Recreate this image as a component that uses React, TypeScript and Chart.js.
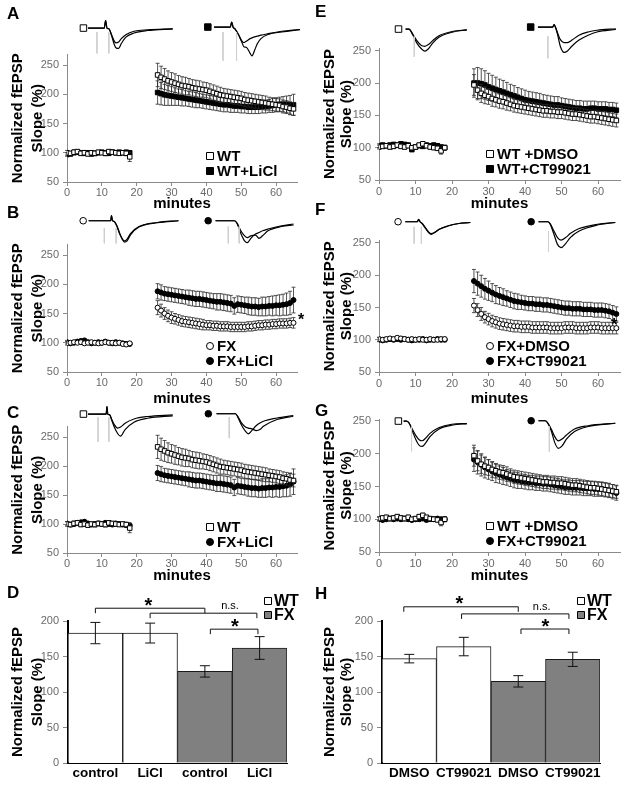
import React, { useEffect, useRef } from "react";
import { Chart, registerables } from "chart.js";

Chart.register(...registerables);

const FONT = '"Liberation Sans", Arial, Helvetica, sans-serif';
const TICK_GRAY = "#6a6a6a";
const AXIS_GRAY = "#8a8a8a";

/* ====================== DATA ====================== */
const baseTimes = [0, 1, 2, 3, 4, 5, 6, 7, 8, 9, 10, 11, 12, 13, 14, 15, 16, 17, 18];
const postTimes = [26, 27, 28, 29, 30, 31, 32, 33, 34, 35, 36, 37, 38, 39, 40, 41, 42, 43, 44, 45, 46, 47, 48, 49, 50, 51, 52, 53, 54, 55, 56, 57, 58, 59, 60, 61, 62, 63, 64, 65];
const xTicks = [0, 10, 20, 30, 40, 50, 60];
const yTicksTC = [50, 100, 150, 200, 250];
const yTicksBar = [0, 50, 100, 150, 200];
const yTitle = ["Normalized fEPSP", "Slope (%)"];
const xTitle = "minutes";

// WT control
const wtCtlBase = [100, 99, 101, 102, 99, 100, 98, 100, 99, 101, 100, 99, 102, 101, 100, 99, 100, 99, 93];
const wtCtlBaseErr = [4, 3, 4, 3, 3, 4, 3, 3, 4, 3, 3, 4, 3, 3, 4, 3, 3, 4, 8];
const wtCtlPost = [233, 229, 226, 223, 221, 219, 217, 215, 214, 213, 211, 210, 209, 208, 207, 205, 203, 201, 199, 198, 197, 196, 195, 194, 193, 191, 190, 189, 188, 187, 186, 185, 184, 183, 182, 181, 179, 178, 176, 175];
const wtCtlPostErr = [20, 19, 18, 17, 16, 16, 15, 15, 15, 14, 14, 14, 14, 13, 13, 13, 13, 13, 13, 12, 12, 12, 12, 12, 12, 12, 12, 12, 12, 12, 12, 12, 11, 11, 11, 11, 11, 11, 11, 11];
// WT + LiCl
const wtLiClBase = [97, 98, 100, 101, 100, 99, 100, 98, 99, 100, 101, 100, 99, 101, 100, 101, 100, 101, 100];
const wtLiClBaseErr = [3, 3, 3, 4, 3, 3, 3, 3, 3, 3, 3, 3, 3, 3, 3, 3, 3, 3, 3];
const wtLiClPost = [203, 201, 199, 198, 197, 196, 195, 194, 193, 192, 191, 190, 189, 188, 187, 186, 185, 184, 183, 182, 182, 181, 180, 180, 179, 179, 178, 178, 178, 178, 179, 179, 180, 181, 182, 183, 183, 183, 182, 182];
const wtLiClPostErr = [20, 19, 18, 17, 16, 15, 14, 14, 13, 13, 13, 13, 12, 12, 12, 12, 12, 12, 12, 12, 12, 12, 11, 11, 11, 11, 11, 11, 11, 11, 11, 11, 11, 12, 12, 12, 13, 14, 16, 18];
// FX control
const fxCtlBase = [99, 100, 101, 100, 101, 99, 100, 101, 100, 99, 100, 101, 100, 100, 99, 100, 98, 97, 99];
const fxCtlBaseErr = [3, 3, 3, 3, 3, 3, 3, 3, 3, 3, 3, 3, 3, 3, 3, 3, 3, 3, 3];
const fxCtlPost = [160, 155, 150, 146, 143, 141, 139, 137, 136, 135, 134, 133, 132, 131, 130, 130, 129, 129, 128, 128, 128, 127, 127, 127, 127, 127, 128, 128, 129, 130, 130, 131, 131, 132, 132, 133, 133, 133, 134, 134];
const fxCtlPostErr = [12, 11, 10, 10, 10, 9, 9, 9, 9, 9, 9, 9, 9, 9, 8, 8, 8, 8, 8, 8, 8, 8, 8, 8, 8, 8, 8, 8, 8, 8, 8, 8, 8, 8, 8, 8, 8, 8, 8, 9];
// FX + LiCl
const fxLiClBase = [101, 99, 100, 102, 103, 104, 101, 99, 100, 101, 100, 102, 100, 99, 101, 100, 99, 98, 98];
const fxLiClBaseErr = [3, 3, 3, 3, 3, 3, 3, 3, 3, 3, 3, 3, 3, 3, 3, 3, 3, 3, 3];
const fxLiClPost = [188, 186, 184, 183, 182, 181, 180, 179, 178, 177, 176, 175, 175, 174, 173, 172, 171, 170, 170, 169, 168, 167, 163, 166, 165, 164, 163, 162, 162, 161, 162, 162, 163, 163, 164, 164, 165, 166, 168, 173];
const fxLiClPostErr = [13, 13, 12, 12, 12, 12, 12, 12, 12, 13, 13, 13, 13, 13, 13, 13, 13, 14, 14, 14, 14, 14, 14, 14, 14, 14, 15, 15, 15, 15, 16, 16, 16, 17, 17, 18, 18, 19, 20, 22];
// WT + DMSO
const wtDmsoBase = [101, 102, 103, 101, 102, 104, 102, 101, 103, 100, 101, 104, 106, 103, 101, 100, 99, 95, 100];
const wtDmsoBaseErr = [3, 3, 3, 3, 3, 3, 3, 3, 3, 3, 3, 3, 3, 3, 3, 3, 3, 5, 4];
const wtDmsoPost = [197, 189, 184, 181, 179, 176, 174, 172, 171, 169, 167, 165, 164, 163, 162, 161, 160, 159, 158, 157, 157, 156, 156, 155, 155, 154, 153, 152, 152, 151, 150, 149, 148, 148, 147, 146, 145, 144, 143, 142];
const wtDmsoPostErr = [16, 15, 14, 13, 12, 12, 11, 11, 11, 11, 10, 10, 10, 10, 10, 10, 10, 10, 10, 10, 10, 10, 10, 10, 10, 10, 10, 10, 10, 10, 10, 10, 10, 10, 10, 10, 10, 10, 10, 10];
// WT + CT99021
const wtCtBase = [103, 104, 103, 104, 105, 104, 106, 105, 104, 97, 101, 103, 102, 104, 103, 104, 103, 101, 100];
const wtCtBaseErr = [3, 3, 3, 3, 3, 3, 3, 3, 3, 3, 3, 3, 3, 3, 3, 3, 3, 3, 3];
const wtCtPost = [200, 200, 199, 197, 194, 192, 190, 188, 186, 184, 182, 180, 178, 176, 174, 173, 172, 171, 170, 169, 168, 167, 166, 166, 165, 164, 163, 162, 161, 161, 160, 160, 161, 161, 160, 160, 160, 159, 159, 158];
const wtCtPostErr = [22, 24, 23, 22, 21, 20, 19, 18, 18, 17, 16, 16, 15, 15, 15, 14, 14, 14, 14, 13, 13, 13, 13, 13, 12, 12, 12, 12, 12, 12, 12, 12, 11, 11, 11, 11, 11, 11, 11, 11];
// FX + DMSO
const fxDmsoBase = [101, 100, 101, 102, 101, 103, 102, 101, 100, 101, 100, 101, 100, 100, 101, 100, 100, 101, 101];
const fxDmsoBaseErr = [3, 3, 3, 3, 3, 3, 3, 3, 3, 3, 3, 3, 3, 3, 3, 3, 3, 3, 3];
const fxDmsoPost = [153, 146, 140, 135, 132, 129, 127, 125, 124, 123, 122, 121, 121, 120, 120, 120, 119, 119, 119, 119, 119, 118, 118, 118, 118, 119, 119, 119, 118, 118, 118, 118, 119, 119, 119, 118, 118, 118, 118, 118];
const fxDmsoPostErr = [11, 10, 10, 9, 9, 9, 9, 9, 9, 9, 9, 9, 9, 9, 9, 9, 9, 9, 9, 9, 9, 9, 9, 9, 9, 9, 9, 9, 9, 9, 9, 9, 9, 9, 9, 9, 9, 9, 9, 9];
// FX + CT99021
const fxCtBase = [100, 99, 100, 101, 100, 101, 100, 101, 100, 99, 100, 100, 101, 99, 100, 100, 101, 100, 100];
const fxCtBaseErr = [3, 3, 3, 3, 3, 3, 3, 3, 3, 3, 3, 3, 3, 3, 3, 3, 3, 3, 3];
const fxCtPost = [191, 187, 183, 179, 176, 173, 170, 168, 166, 164, 162, 160, 159, 158, 157, 156, 156, 155, 155, 154, 154, 153, 152, 151, 150, 149, 149, 148, 148, 148, 147, 147, 147, 146, 146, 146, 145, 144, 142, 140];
const fxCtPostErr = [18, 18, 17, 16, 15, 14, 14, 13, 13, 12, 12, 12, 12, 11, 11, 11, 11, 11, 11, 11, 11, 11, 11, 11, 11, 11, 11, 11, 11, 11, 11, 11, 11, 11, 11, 11, 11, 11, 11, 11];

// Bar summaries
const barCatsD = ["control", "LiCl", "control", "LiCl"];
const barValsD = [183, 183, 129, 162];
const barErrD = [15, 14, 8, 16];
const barCatsH = ["DMSO", "CT99021", "DMSO", "CT99021"];
const barValsH = [147, 164, 115, 146];
const barErrH = [6, 13, 8, 10];
const barGroupIdx = [0, 0, 1, 1];
const groupLabels = ["WT", "FX"];
const sigD = [
  { from: 0, to: 2, level: 218, labelAt: 0.97, label: "*" },
  { from: 1, to: 2.95, level: 211, labelAt: 2.46, label: "n.s." },
  { from: 2.1, to: 2.97, level: 188.5, labelAt: 2.55, label: "*" },
];
const sigH = [
  { from: -0.1, to: 2, level: 220, labelAt: 0.92, label: "*" },
  { from: 0.96, to: 2.93, level: 210, labelAt: 2.43, label: "n.s." },
  { from: 2.05, to: 2.93, level: 188.7, labelAt: 2.5, label: "*" },
];

// Example fEPSP traces (ms, mV): pre = baseline, post = after LTP induction
const trA1T = [0, 6.0, 6.5, 7.0, 7.7, 8.7, 9.7, 10.3, 11.3, 12.3, 14, 17, 22, 31.3];
const trA1Pre = [0, 0, 0.3, 0, -0.03, -0.27, -0.53, -0.6, -0.57, -0.43, -0.27, -0.13, -0.07, -0.03];
const trA1Post = [0, 0, 0.3, 0, -0.03, -0.3, -0.67, -0.8, -0.83, -0.63, -0.37, -0.2, -0.1, -0.03];
const trA2T = [0, 6.0, 6.5, 7.0, 7.7, 9, 10.3, 11, 12, 13.3, 14, 15, 16, 17.3, 20, 25, 31.7];
const trA2Pre = [0, 0, 0.2, 0, -0.07, -0.3, -0.57, -0.63, -0.57, -0.47, -0.44, -0.4, -0.37, -0.33, -0.27, -0.17, -0.1];
const trA2Post = [0, 0, 0.2, 0, -0.07, -0.3, -0.63, -0.8, -0.83, -1.07, -1.17, -0.93, -0.67, -0.47, -0.3, -0.2, -0.1];
const trB1T = [0, 8.0, 8.3, 8.7, 9.3, 10.3, 11.3, 12.3, 13, 14, 15.3, 18.3, 25, 32.7];
const trB1Pre = [0, 0, 0.2, 0, -0.03, -0.23, -0.53, -0.73, -0.8, -0.73, -0.5, -0.23, -0.07, 0];
const trB1Post = [0, 0, 0.2, 0, -0.03, -0.2, -0.5, -0.75, -0.85, -0.8, -0.55, -0.25, -0.08, 0];
const trB2T = [0, 7, 8, 9.3, 10.7, 11.7, 13, 14.7, 16, 17.3, 19.3, 24.3, 28.7];
const trB2Pre = [0, 0, -0.1, -0.4, -0.6, -0.67, -0.6, -0.57, -0.7, -0.6, -0.4, -0.23, -0.17];
const trB2Post = [0, 0, -0.13, -0.5, -0.8, -0.87, -0.7, -0.53, -0.47, -0.4, -0.33, -0.2, -0.13];
const trC1T = [0, 6.7, 7.0, 7.3, 8.0, 8.7, 9.7, 11, 12, 13.7, 17, 22, 31.3];
const trC1Pre = [0, 0, 0.3, 0, -0.03, -0.2, -0.43, -0.57, -0.53, -0.37, -0.2, -0.1, -0.03];
const trC1Post = [0, 0, 0.3, 0, -0.03, -0.23, -0.53, -0.8, -0.9, -0.63, -0.33, -0.17, -0.07];
const trC2T = [0, 7, 8, 9.3, 10.7, 11.7, 13, 14.7, 16, 17.3, 22.3, 28.3];
const trC2Pre = [0, 0, -0.13, -0.37, -0.53, -0.57, -0.6, -0.67, -0.63, -0.5, -0.23, -0.1];
const trC2Post = [0, 0, -0.17, -0.47, -0.7, -0.8, -0.67, -0.47, -0.37, -0.3, -0.17, -0.07];
const trE1T = [0, 1.3, 2.7, 4.3, 6, 7.3, 8.7, 10.3, 12.7, 17.7, 23.3];
const trE1Pre = [0, 0, -0.2, -0.47, -0.67, -0.7, -0.63, -0.47, -0.27, -0.1, -0.03];
const trE1Post = [0, 0, -0.23, -0.57, -0.8, -0.9, -0.8, -0.57, -0.33, -0.13, -0.03];
const trE2T = [0, 5.5, 6, 6.5, 7.3, 8.3, 9.7, 11, 12.7, 15.3, 18.7, 22, 29];
const trE2Pre = [0, 0, 0.1, 0, -0.23, -0.5, -0.63, -0.63, -0.53, -0.33, -0.2, -0.13, -0.07];
const trE2Post = [0, 0, 0.1, 0, -0.3, -0.77, -1.03, -0.97, -0.77, -0.53, -0.33, -0.2, -0.1];
const trF1T = [0, 4.5, 5, 5.5, 6.3, 7.3, 8.7, 9.7, 11, 12.7, 16, 20, 24.3];
const trF1Pre = [0, 0, 0.1, 0, -0.07, -0.2, -0.4, -0.47, -0.42, -0.3, -0.16, -0.07, -0.03];
const trF1Post = [0, 0, 0.1, 0, -0.07, -0.23, -0.43, -0.5, -0.43, -0.3, -0.17, -0.07, -0.03];
const trF2T = [0, 3.5, 4.3, 5.7, 7, 8.3, 10, 11.7, 15, 21.7, 28.3];
const trF2Pre = [0, 0, -0.07, -0.37, -0.63, -0.73, -0.63, -0.47, -0.27, -0.1, -0.03];
const trF2Post = [0, 0, -0.1, -0.5, -0.9, -1.03, -0.87, -0.63, -0.37, -0.13, -0.03];
const trG1T = [0, 1, 2, 3.3, 4.7, 6, 7, 8.3, 10, 13.3, 18.3, 24];
const trG1Pre = [0, 0, -0.07, -0.33, -0.6, -0.77, -0.8, -0.7, -0.5, -0.27, -0.13, -0.1];
const trG1Post = [0, 0, -0.07, -0.4, -0.77, -1.0, -1.03, -0.9, -0.63, -0.33, -0.17, -0.1];
const trG2T = [0, 2.5, 3.3, 4.7, 6, 7.3, 8.7, 10.3, 13.3, 18.3, 28.3];
const trG2Pre = [0, 0, -0.07, -0.33, -0.63, -0.8, -0.73, -0.57, -0.33, -0.2, -0.1];
const trG2Post = [0, 0, -0.07, -0.4, -0.87, -1.1, -1.0, -0.73, -0.43, -0.23, -0.1];

/* ====================== SERIES DESCRIPTORS ====================== */
type Series = { label: string; base: number[]; baseErr: number[]; post: number[]; postErr: number[]; style: "rect" | "circle"; filled: boolean };
const sWtCtl: Series = { label: "WT", base: wtCtlBase, baseErr: wtCtlBaseErr, post: wtCtlPost, postErr: wtCtlPostErr, style: "rect", filled: false };
const sWtLiCl: Series = { label: "WT+LiCl", base: wtLiClBase, baseErr: wtLiClBaseErr, post: wtLiClPost, postErr: wtLiClPostErr, style: "rect", filled: true };
const sFxCtl: Series = { label: "FX", base: fxCtlBase, baseErr: fxCtlBaseErr, post: fxCtlPost, postErr: fxCtlPostErr, style: "circle", filled: false };
const sFxLiCl: Series = { label: "FX+LiCl", base: fxLiClBase, baseErr: fxLiClBaseErr, post: fxLiClPost, postErr: fxLiClPostErr, style: "circle", filled: true };
const sWtDmso: Series = { label: "WT +DMSO", base: wtDmsoBase, baseErr: wtDmsoBaseErr, post: wtDmsoPost, postErr: wtDmsoPostErr, style: "rect", filled: false };
const sWtCt: Series = { label: "WT+CT99021", base: wtCtBase, baseErr: wtCtBaseErr, post: wtCtPost, postErr: wtCtPostErr, style: "rect", filled: true };
const sFxDmso: Series = { label: "FX+DMSO", base: fxDmsoBase, baseErr: fxDmsoBaseErr, post: fxDmsoPost, postErr: fxDmsoPostErr, style: "circle", filled: false };
const sFxCt: Series = { label: "FX+CT99021", base: fxCtBase, baseErr: fxCtBaseErr, post: fxCtPost, postErr: fxCtPostErr, style: "circle", filled: true };

/* ====================== LAYOUT ====================== */
type Area = { left: number; right: number; top: number; bottom: number };
type TCPanel = { id: string; canvas: [number, number, number, number]; area: Area; yMax: number; series: Series[]; col: 0 | 1 };

const TC_PANELS: TCPanel[] = [
  { id: "A", canvas: [0, 0, 310, 213], area: { left: 67, right: 297, top: 54.5, bottom: 182 }, yMax: 268, series: [sWtCtl, sWtLiCl], col: 0 },
  { id: "B", canvas: [0, 190, 310, 218], area: { left: 67, right: 297, top: 244.5, bottom: 372 }, yMax: 268, series: [sFxCtl, sFxLiCl], col: 0 },
  { id: "C", canvas: [0, 372, 310, 213], area: { left: 67, right: 297, top: 426.6, bottom: 553 }, yMax: 268, series: [sWtCtl, sFxLiCl], col: 0 },
  { id: "E", canvas: [310, 0, 319, 213], area: { left: 379, right: 620, top: 48.1, bottom: 180 }, yMax: 254, series: [sWtDmso, sWtCt], col: 1 },
  { id: "F", canvas: [310, 190, 319, 218], area: { left: 379, right: 620, top: 240.4, bottom: 372 }, yMax: 254, series: [sFxDmso, sFxCt], col: 1 },
  { id: "G", canvas: [310, 372, 319, 213], area: { left: 379, right: 620, top: 419, bottom: 552 }, yMax: 253, series: [sWtDmso, sFxCt], col: 1 },
];

const COL_STYLE = [
  { titleLH: 1.3, titlePad: 8.25, legendDx: 143, xTickPad: 0.5 },
  { titleLH: 1.14, titlePad: 11.5, legendDx: 111, xTickPad: 1.5 },
];

type BarPanel = { id: string; canvas: [number, number, number, number]; area: Area; cats: string[]; vals: number[]; errs: number[]; sig: typeof sigD; col: 0 | 1 };
const BAR_PANELS: BarPanel[] = [
  { id: "D", canvas: [0, 580, 310, 206], area: { left: 68, right: 287, top: 621, bottom: 763 }, cats: barCatsD, vals: barValsD, errs: barErrD, sig: sigD, col: 0 },
  { id: "H", canvas: [310, 580, 319, 206], area: { left: 382, right: 600, top: 621, bottom: 763 }, cats: barCatsH, vals: barValsH, errs: barErrH, sig: sigH, col: 1 },
];

type TraceSpec = { origin: [number, number]; t: number[]; pre: number[]; post: number[]; marker: { t: number; style: "rect" | "circle"; filled: boolean }; stim: number[]; stimRange: [number, number] };
const TRACES: TraceSpec[] = [
  { origin: [84, 25], t: trA1T, pre: trA1Pre, post: trA1Post, marker: { t: -1.7, style: "rect", filled: false }, stim: [3.3, 7.7], stimRange: [-0.17, -1.03] },
  { origin: [210, 24], t: trA2T, pre: trA2Pre, post: trA2Post, marker: { t: -2.3, style: "rect", filled: true }, stim: [3.3, 8.3], stimRange: [-0.2, -1.37] },
  { origin: [85, 218], t: trB1T, pre: trB1Pre, post: trB1Post, marker: { t: -2, style: "circle", filled: false }, stim: [5.7, 10], stimRange: [-0.3, -0.9] },
  { origin: [212, 218], t: trB2T, pre: trB2Pre, post: trB2Post, marker: { t: -2.7, style: "circle", filled: true }, stim: [4.7, 8.7], stimRange: [-0.23, -0.9] },
  { origin: [84, 411], t: trC1T, pre: trC1Pre, post: trC1Post, marker: { t: -1.7, style: "rect", filled: false }, stim: [3.7, 7.7], stimRange: [-0.13, -1.13] },
  { origin: [213, 411], t: trC2T, pre: trC2Pre, post: trC2Post, marker: { t: -3, style: "circle", filled: true }, stim: [4.7], stimRange: [-0.13, -0.97] },
  { origin: [402, 26], t: trE1T, pre: trE1Pre, post: trE1Post, marker: { t: -2.7, style: "rect", filled: false }, stim: [3.3], stimRange: [-0.3, -1.13] },
  { origin: [534, 24], t: trE2T, pre: trE2Pre, post: trE2Post, marker: { t: -2.7, style: "rect", filled: true }, stim: [3.7], stimRange: [-0.37, -1.27] },
  { origin: [402, 219], t: trF1T, pre: trF1Pre, post: trF1Post, marker: { t: -2.7, style: "circle", filled: false }, stim: [3.3, 6], stimRange: [-0.2, -0.87] },
  { origin: [535, 219], t: trF2T, pre: trF2Pre, post: trF2Post, marker: { t: -2.7, style: "circle", filled: true }, stim: [3.7], stimRange: [-0.37, -1.2] },
  { origin: [400, 418], t: trG1T, pre: trG1Pre, post: trG1Post, marker: { t: -2, style: "rect", filled: false }, stim: [3], stimRange: [-0.23, -1.23] },
  { origin: [535, 418], t: trG2T, pre: trG2Pre, post: trG2Post, marker: { t: -2.7, style: "circle", filled: true }, stim: [4], stimRange: [-0.23, -1.23] },
];
const PX_PER_MS = 3;
const PX_PER_MV = 30;

const LETTERS = [
  { t: "A", x: 7, y: 5 }, { t: "B", x: 7, y: 204 }, { t: "C", x: 7, y: 404 }, { t: "D", x: 7, y: 584 },
  { t: "E", x: 315, y: 3 }, { t: "F", x: 315, y: 201 }, { t: "G", x: 315, y: 402 }, { t: "H", x: 315, y: 585 },
];
const STARS = [{ x: 298, y: 312 }, { x: 611, y: 317 }];

/* ====================== PLUGINS ====================== */
function drawMarker(ctx: CanvasRenderingContext2D, style: string, filled: boolean, x: number, y: number, size: number, fillColor?: string) {
  ctx.beginPath();
  if (style === "rect") ctx.rect(x - size / 2, y - size / 2, size, size);
  else ctx.arc(x, y, size / 2, 0, Math.PI * 2);
  ctx.fillStyle = fillColor ? fillColor : filled ? "#000" : "#fff";
  ctx.fill();
  ctx.lineWidth = 1;
  ctx.strokeStyle = "#000";
  ctx.stroke();
}

function tcErrorPlugin(errs: number[][]) {
  return {
    id: "tcErrors",
    beforeDatasetDraw(chart: any, args: any) {
      const e = errs[args.index];
      if (!e) return;
      const ctx = chart.ctx;
      const ys = chart.scales.y;
      const ds = chart.data.datasets[args.index];
      ctx.save();
      ctx.strokeStyle = "#2a2a2a";
      ctx.lineWidth = 0.8;
      args.meta.data.forEach((el: any, i: number) => {
        const v = ds.data[i].y;
        const top = ys.getPixelForValue(v + e[i]);
        const bot = ys.getPixelForValue(v - e[i]);
        ctx.beginPath();
        ctx.moveTo(el.x, top);
        ctx.lineTo(el.x, bot);
        ctx.moveTo(el.x - 2, top);
        ctx.lineTo(el.x + 2, top);
        ctx.moveTo(el.x - 2, bot);
        ctx.lineTo(el.x + 2, bot);
        ctx.stroke();
      });
      ctx.restore();
    },
  };
}

function tcLegendPlugin(series: Series[], dx: number) {
  const rows = [-26, -11];
  return {
    id: "tcLegend",
    afterDraw(chart: any) {
      const { ctx, chartArea } = chart;
      ctx.save();
      series.forEach((s, i) => {
        const x = chartArea.left + dx;
        const y = chartArea.bottom + rows[i];
        drawMarker(ctx, s.style, s.filled, x, y, 7);
        ctx.fillStyle = "#000";
        ctx.font = `bold 15px ${FONT}`;
        ctx.textAlign = "left";
        ctx.textBaseline = "middle";
        ctx.fillText(s.label, x + 7, y + 0.5);
      });
      ctx.restore();
    },
  };
}

function barExtrasPlugin(errs: number[], sig: typeof sigD) {
  return {
    id: "barExtras",
    afterDraw(chart: any) {
      const { ctx, chartArea } = chart;
      const xs = chart.scales.x;
      const ys = chart.scales.y;
      const meta = chart.getDatasetMeta(0);
      const ds = chart.data.datasets[0];
      ctx.save();
      ctx.strokeStyle = "#111";
      ctx.lineWidth = 1;
      meta.data.forEach((el: any, i: number) => {
        const v = ds.data[i];
        const top = ys.getPixelForValue(v + errs[i]);
        const bot = ys.getPixelForValue(v - errs[i]);
        ctx.beginPath();
        ctx.moveTo(el.x, top);
        ctx.lineTo(el.x, bot);
        ctx.moveTo(el.x - 5, top);
        ctx.lineTo(el.x + 5, top);
        ctx.moveTo(el.x - 5, bot);
        ctx.lineTo(el.x + 5, bot);
        ctx.stroke();
      });
      sig.forEach((b) => {
        const x1 = xs.getPixelForValue(b.from);
        const x2 = xs.getPixelForValue(b.to);
        const yy = ys.getPixelForValue(b.level);
        ctx.beginPath();
        ctx.moveTo(x1, yy + 5);
        ctx.lineTo(x1, yy);
        ctx.lineTo(x2, yy);
        ctx.lineTo(x2, yy + 5);
        ctx.stroke();
        const lx = xs.getPixelForValue(b.labelAt);
        ctx.fillStyle = "#000";
        ctx.textAlign = "center";
        ctx.textBaseline = "alphabetic";
        if (b.label === "*") {
          ctx.font = `bold 20px ${FONT}`;
          ctx.fillText("*", lx, yy + 3.5);
        } else {
          ctx.font = `11px ${FONT}`;
          ctx.fillText(b.label, lx, yy - 4);
        }
      });
      // legend
      const lx = chartArea.right - 19;
      const rowsY = [chartArea.top - 20, chartArea.top - 6];
      groupLabels.forEach((g, i) => {
        drawMarker(ctx, "rect", false, lx, rowsY[i], 7, i === 0 ? "#fff" : "#808080");
        ctx.fillStyle = "#000";
        ctx.font = `bold 16px ${FONT}`;
        ctx.textAlign = "left";
        ctx.textBaseline = "middle";
        ctx.fillText(g, lx + 6, rowsY[i] + 0.5);
      });
      ctx.restore();
    },
  };
}

/* ====================== COMPONENTS ====================== */
function TimeCourseChart({ p }: { p: TCPanel }) {
  const ref = useRef<HTMLCanvasElement>(null);
  const [cl, ct, cw, ch] = p.canvas;
  useEffect(() => {
    const cs = COL_STYLE[p.col];
    const padTop = p.area.top - ct;
    const padRight = cl + cw - p.area.right;
    const yW = p.area.left - cl;
    const xH = ct + ch - p.area.bottom;
    const datasets = p.series.map((s) => ({
      label: s.label,
      data: [
        ...baseTimes.map((t, i) => ({ x: t, y: s.base[i] })),
        ...postTimes.map((t, i) => ({ x: t, y: s.post[i] })),
      ],
      pointStyle: s.style,
      pointRadius: s.style === "rect" ? 3.2 : 2.5,
      pointBorderWidth: 1,
      pointBorderColor: "#000",
      pointBackgroundColor: s.filled ? "#000" : "#fff",
      showLine: false,
    }));
    const errs = p.series.map((s) => [...s.baseErr, ...s.postErr]);
    const chart = new Chart(ref.current as HTMLCanvasElement, {
      type: "scatter",
      data: { datasets },
      options: {
        responsive: false,
        animation: false,
        devicePixelRatio: 1,
        events: [],
        layout: { padding: { left: 0, top: padTop, right: padRight, bottom: 0 } },
        plugins: { legend: { display: false }, tooltip: { enabled: false } },
        scales: {
          x: {
            type: "linear",
            min: 0,
            max: 66,
            afterBuildTicks: (s: any) => { s.ticks = xTicks.map((v) => ({ value: v })); },
            afterFit: (s: any) => { s.height = xH; },
            grid: { drawOnChartArea: false, drawTicks: true, tickLength: 4, color: AXIS_GRAY },
            border: { color: AXIS_GRAY, width: 1 },
            ticks: { font: { family: FONT, size: 11 }, color: TICK_GRAY, padding: cs.xTickPad, maxRotation: 0 },
            title: { display: true, text: xTitle, color: "#000", font: { family: FONT, size: 15, weight: "bold", lineHeight: 1.2 }, padding: { top: 0, bottom: 0 } },
          },
          y: {
            type: "linear",
            min: 50,
            max: p.yMax,
            afterBuildTicks: (s: any) => { s.ticks = yTicksTC.map((v) => ({ value: v })); },
            afterFit: (s: any) => { s.width = yW; },
            grid: { drawOnChartArea: false, drawTicks: true, tickLength: 4, color: AXIS_GRAY },
            border: { color: AXIS_GRAY, width: 1 },
            ticks: { font: { family: FONT, size: 11 }, color: TICK_GRAY, padding: 4 },
            title: { display: true, text: yTitle, color: "#000", font: { family: FONT, size: 15, weight: "bold", lineHeight: cs.titleLH }, padding: { top: cs.titlePad, bottom: 0 } },
          },
        },
      } as any,
      plugins: [tcErrorPlugin(errs), tcLegendPlugin(p.series, cs.legendDx)],
    });
    return () => chart.destroy();
  }, [p]);
  return <canvas ref={ref} width={cw} height={ch} style={{ position: "absolute", left: cl, top: ct, width: cw, height: ch }} />;
}

function BarChart({ p }: { p: BarPanel }) {
  const ref = useRef<HTMLCanvasElement>(null);
  const [cl, ct, cw, ch] = p.canvas;
  useEffect(() => {
    const cs = COL_STYLE[p.col];
    const padTop = p.area.top - ct;
    const padRight = cl + cw - p.area.right;
    const yW = p.area.left - cl;
    const xH = ct + ch - p.area.bottom;
    const chart = new Chart(ref.current as HTMLCanvasElement, {
      type: "bar",
      data: {
        labels: p.cats,
        datasets: [{
          data: p.vals,
          backgroundColor: barGroupIdx.map((g) => (g === 0 ? "#ffffff" : "#808080")),
          borderColor: "#1a1a1a",
          borderWidth: 1,
          categoryPercentage: 1,
          barPercentage: 1,
        }],
      },
      options: {
        responsive: false,
        animation: false,
        devicePixelRatio: 1,
        events: [],
        layout: { padding: { left: 0, top: padTop, right: padRight, bottom: 0 } },
        plugins: { legend: { display: false }, tooltip: { enabled: false } },
        scales: {
          x: {
            afterFit: (s: any) => { s.height = xH; },
            grid: { display: false, drawTicks: false },
            border: { color: "#000", width: 1 },
            ticks: { font: { family: FONT, size: 13.5, weight: "bold" }, color: "#000", padding: 2, maxRotation: 0, autoSkip: false },
          },
          y: {
            min: 0,
            max: 200,
            afterBuildTicks: (s: any) => { s.ticks = yTicksBar.map((v) => ({ value: v })); },
            afterFit: (s: any) => { s.width = yW; },
            grid: { drawOnChartArea: false, drawTicks: true, tickLength: 5, color: AXIS_GRAY },
            border: { color: "#000", width: 2 },
            ticks: { font: { family: FONT, size: 11 }, color: TICK_GRAY, padding: 4 },
            title: { display: true, text: yTitle, color: "#000", font: { family: FONT, size: 15, weight: "bold", lineHeight: cs.titleLH }, padding: { top: cs.titlePad, bottom: 0 } },
          },
        },
      } as any,
      plugins: [barExtrasPlugin(p.errs, p.sig)],
    });
    return () => chart.destroy();
  }, [p]);
  return <canvas ref={ref} width={cw} height={ch} style={{ position: "absolute", left: cl, top: ct, width: cw, height: ch }} />;
}

function TraceInset({ s }: { s: TraceSpec }) {
  const ref = useRef<HTMLCanvasElement>(null);
  const [ox, oy] = s.origin;
  const padL = 16, padT = 14;
  const left = ox - padL, top = oy - padT;
  const width = Math.ceil(s.t[s.t.length - 1] * PX_PER_MS) + padL + 4;
  const height = 62;
  useEffect(() => {
    const xMin = -padL / PX_PER_MS;
    const xMax = xMin + width / PX_PER_MS;
    const yMax = padT / PX_PER_MV;
    const yMin = yMax - height / PX_PER_MV;
    const traceDs = (vals: number[]) => ({
      data: s.t.map((t, i) => ({ x: t, y: vals[i] })),
      borderColor: "#000",
      borderWidth: 1.2,
      pointRadius: 0,
      cubicInterpolationMode: "monotone",
      fill: false,
    });
    const stimDs = s.stim.map((t) => ({
      data: [{ x: t, y: s.stimRange[0] }, { x: t, y: s.stimRange[1] }],
      borderColor: "#cfcfcf",
      borderWidth: 1,
      pointRadius: 0,
      fill: false,
    }));
    const markerDs = {
      data: [{ x: s.marker.t, y: 0 }],
      showLine: false,
      pointStyle: s.marker.style,
      pointRadius: s.marker.style === "rect" ? 4.6 : 3.3,
      pointBorderWidth: 1,
      pointBorderColor: "#000",
      pointBackgroundColor: s.marker.filled ? "#000" : "#fff",
    };
    const chart = new Chart(ref.current as HTMLCanvasElement, {
      type: "line",
      data: { datasets: [...stimDs, traceDs(s.pre), traceDs(s.post), markerDs] as any },
      options: {
        responsive: false,
        animation: false,
        devicePixelRatio: 1,
        events: [],
        layout: { padding: 0 },
        plugins: { legend: { display: false }, tooltip: { enabled: false } },
        scales: {
          x: { type: "linear", min: xMin, max: xMax, display: false },
          y: { type: "linear", min: yMin, max: yMax, display: false },
        },
      } as any,
    });
    return () => chart.destroy();
  }, [s]);
  return <canvas ref={ref} width={width} height={height} style={{ position: "absolute", left, top, width, height }} />;
}

export default function App() {
  return (
    <div style={{ position: "absolute", left: 0, top: 0, width: 629, height: 786, background: "#fff", overflow: "hidden" }}>
      {TC_PANELS.map((p) => <TimeCourseChart key={p.id} p={p} />)}
      {BAR_PANELS.map((p) => <BarChart key={p.id} p={p} />)}
      {TRACES.map((s, i) => <TraceInset key={i} s={s} />)}
      {LETTERS.map((l) => (
        <div key={l.t} style={{ position: "absolute", left: l.x, top: l.y, font: `bold 17px ${FONT}`, lineHeight: "17px", color: "#000" }}>{l.t}</div>
      ))}
      {STARS.map((st, i) => (
        <div key={i} style={{ position: "absolute", left: st.x, top: st.y, font: `bold 16px ${FONT}`, lineHeight: "16px", color: "#000" }}>*</div>
      ))}
    </div>
  );
}
